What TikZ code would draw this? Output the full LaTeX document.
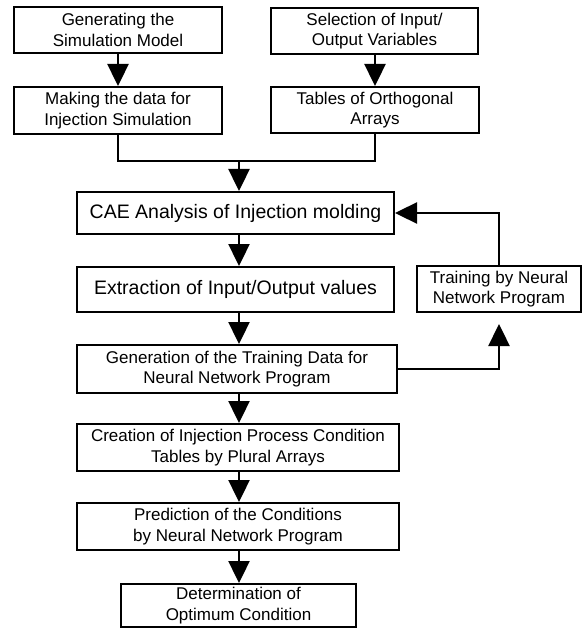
\documentclass[tikz,border=0pt]{standalone}
\usepackage{fontspec}
\setmainfont{Liberation Sans}
\usetikzlibrary{arrows.meta}
\begin{document}
\begin{tikzpicture}[x=1pt,y=-1pt,
  box/.style={draw, line width=2pt, align=center, inner sep=0pt, font=\fontsize{17}{20.5}\selectfont},
  bigbox/.style={box, font=\fontsize{19.5}{23}\selectfont},
  flow/.style={line width=2.4pt, -{Triangle[width=21pt,length=22pt]}},
  link/.style={line width=2.4pt}]
\useasboundingbox (0,0) rectangle (582,628);
\node[box, minimum width=208pt, minimum height=46pt] (b1) at (118,30) {Generating the\\Simulation Model};
\node[box, minimum width=207pt, minimum height=46pt] (b2) at (374.5,31) {Selection of Input/\\Output Variables};
\node[box, minimum width=208pt, minimum height=47pt] (b3) at (118,110.5) {Making the data for\\Injection Simulation};
\node[box, minimum width=208pt, minimum height=46pt] (b4) at (375,110) {Tables of Orthogonal\\Arrays};
\node[bigbox, minimum width=317pt, minimum height=42pt] (cae) at (235.5,213) {CAE Analysis of Injection molding};
\node[bigbox, minimum width=317pt, minimum height=45pt] (ext) at (235.5,289.5) {Extraction of Input/Output values};
\node[box, minimum width=320pt, minimum height=48pt] (gen) at (237,369) {Generation of the Training Data for\\Neural Network Program};
\node[box, minimum width=164pt, minimum height=46pt] (trn) at (499,289) {Training by Neural\\Network Program};
\node[box, minimum width=322pt, minimum height=47pt] (cre) at (238,447.5) {Creation of Injection Process Condition\\Tables by Plural Arrays};
\node[box, minimum width=322pt, minimum height=47pt] (pre) at (238,526.5) {Prediction of the Conditions\\by Neural Network Program};
\node[box, minimum width=235pt, minimum height=43pt] (det) at (238.5,605.5) {Determination of\\Optimum Condition};
\coordinate (mx) at (239,0);
\coordinate (j) at (239,161);
\draw[flow] (b1) -- (b3);
\draw[flow] (b2.south -| b4) -- (b4);
\draw[link] (b3.south) |- (j);
\draw[link] (b4.south) |- (j);
\draw[flow] (j) -- (cae.north -| j);
\draw[flow] (cae.south -| mx) -- (ext.north -| mx);
\draw[flow] (ext.south -| mx) -- (gen.north -| mx);
\draw[flow] (gen.south -| mx) -- (cre.north -| mx);
\draw[flow] (cre.south -| mx) -- (pre.north -| mx);
\draw[flow] (pre.south -| mx) -- (det.north -| mx);
\draw[flow] (trn.north) |- (cae.east);
\draw[flow, shorten >=11pt] (gen.east) -| (trn.south);
\end{tikzpicture}
\end{document}
